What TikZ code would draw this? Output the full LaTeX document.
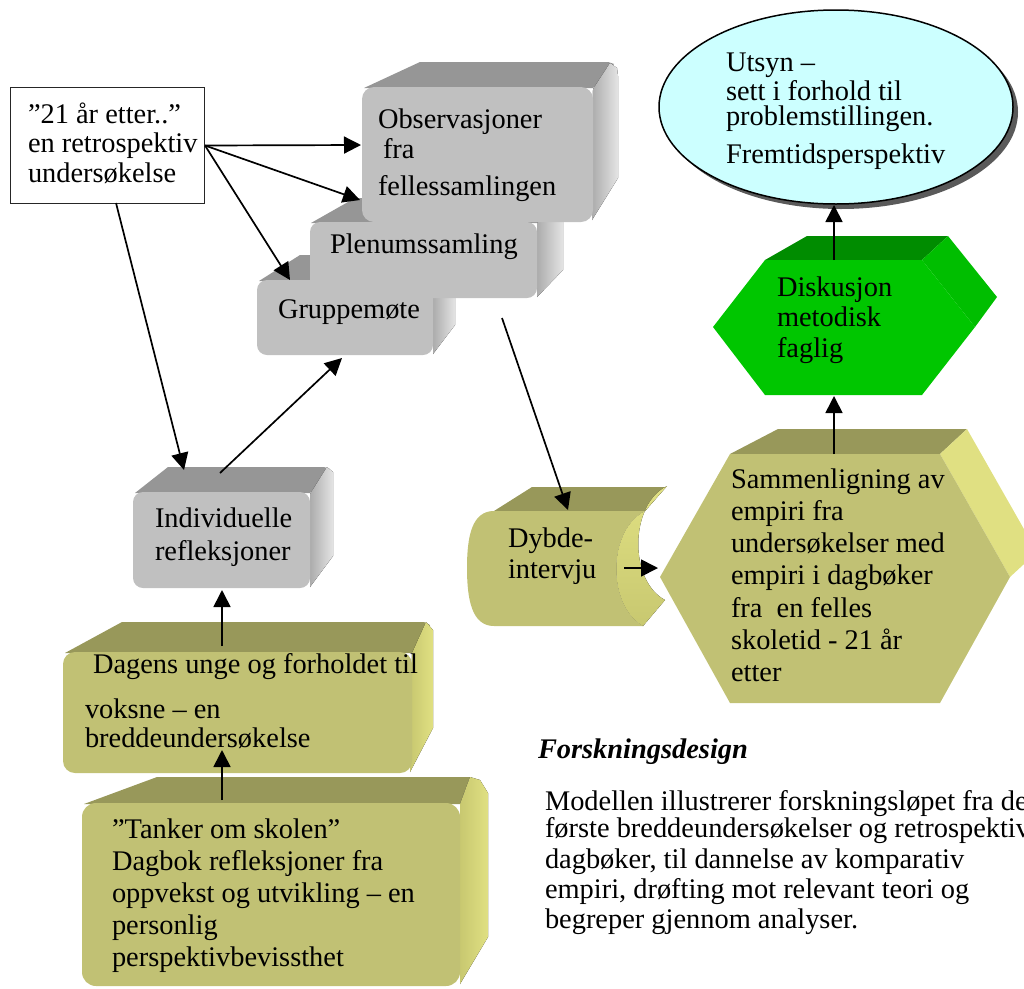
\documentclass[tikz,border=0pt]{standalone}
\usepackage{fontspec}
\setmainfont{Liberation Serif}
\usetikzlibrary{arrows.meta}
\definecolor{gFront}{RGB}{192,192,192}
\definecolor{gTop}{RGB}{150,150,150}
\definecolor{gSideA}{RGB}{172,172,172}
\definecolor{gSideB}{RGB}{228,228,228}
\definecolor{oFront}{RGB}{193,193,116}
\definecolor{oTop}{RGB}{152,152,90}
\definecolor{oSideA}{RGB}{200,200,112}
\definecolor{oSideB}{RGB}{224,224,130}
\definecolor{grFront}{RGB}{0,198,0}
\definecolor{grTop}{RGB}{0,140,0}
\definecolor{grSide}{RGB}{0,190,0}
\definecolor{cyanFill}{RGB}{204,255,255}
\definecolor{shadowGray}{RGB}{90,90,90}
\newcommand{\txtlines}[1]{\begin{tabular}[t]{@{}l@{}}#1\end{tabular}}
\begin{document}
\begin{tikzpicture}[x=1pt,y=-1pt,
  txt/.style={anchor=base west, inner sep=0pt, outer sep=0pt, font=\fontsize{28.4}{#1}\selectfont},
  arr/.style={line width=1.7pt, -{Triangle[length=17pt,width=17pt]}},
  gside/.style={left color=gSideA, right color=gSideB},
  oside/.style={left color=oSideA, right color=oSideB}]
\useasboundingbox (0,0) rectangle (1024,988);
\begin{scope}
\clip (0,0) rectangle (1024,988);
% --- Gruppemote block
\fill[gTop] (259,281) -- (300,255) -- (450,255) -- (455,259) -- (433,281) -- cycle;
\fill[gside] (433,282) -- (452,255) -- (455,258) -- (455,325) -- (433,354) -- cycle;
\fill[gFront, rounded corners=10pt] (257,280) rectangle (433,355);
% --- Plenumssamling block
\fill[gTop] (311,223) -- (355,198) -- (557,198) -- (562,201) -- (537,223) -- cycle;
\fill[gside] (537,223) -- (558,198) -- (563,202) -- (563,270) -- (537,297) -- cycle;
\fill[gFront, rounded corners=10pt] (310,222) rectangle (537,298);
% --- Observasjoner block
\fill[gTop] (364,88) -- (420,62) -- (608,62) -- (614,64) -- (593,88) -- cycle;
\fill[gside] (593,89) -- (610,63) -- (617,68) -- (618,76) -- (618,178) -- (592,220) -- cycle;
\fill[gFront, rounded corners=12pt] (362,87) rectangle (593,222);
% --- Individuelle block
\fill[gTop] (135,493) -- (168,467) -- (324,467) -- (330,469) -- (310,493) -- cycle;
\fill[gside] (310,494) -- (327,467) -- (333,472) -- (333,556) -- (310,587) -- cycle;
\fill[gFront, rounded corners=10pt] (133,492) rectangle (310,588);
% --- Dagens block
\fill[oTop] (65,653) -- (122,622) -- (424,622) -- (430,625) -- (412,653) -- cycle;
\fill[oside] (412,653) -- (426,622) -- (433,630) -- (433,728) -- (410,772) -- cycle;
\fill[oFront, rounded corners=12pt] (63,652) rectangle (412,773);
% --- Tanker block
\fill[oTop] (84,804) -- (157,777) -- (470,777) -- (460,804) -- cycle;
\fill[oside] (460,804) -- (470,777) -- (480,780) -- (488,793) -- (488,937) -- (460,984) -- cycle;
\fill[oFront, rounded corners=14pt] (82,803) rectangle (460,986);
% --- Dybde-intervju
\fill[oTop] (494,511) -- (532,487) -- (666,487) -- (645,511) -- cycle;
\fill[top color=oSideB, bottom color=oSideA] (645,511) .. controls (607,530) and (607,606) .. (643,626) -- (665,600) .. controls (629,581) and (629,505) .. (667,486) -- cycle;
\fill[oFront] (494,511) -- (645,511) .. controls (607,530) and (607,606) .. (643,626) -- (494,626) .. controls (472,626) and (467,600) .. (467,568) .. controls (467,536) and (472,511) .. (494,511) -- cycle;
% --- Sammenligning hexagon
\fill[oTop] (730,454) -- (778,429) -- (967,429) -- (940,454) -- cycle;
\fill[oSideB] (940,454) -- (967,429) -- (1037,552) -- (1010,577) -- cycle;
\fill[oFront] (730,454) -- (940,454) -- (1010,577) -- (940,703) -- (730,703) -- (660,577) -- cycle;
% --- Diskusjon green hexagon
\fill[grTop] (765,260) -- (807,236) -- (948,236) -- (922,260) -- cycle;
\fill[grSide] (922,260) -- (948,236) -- (997,297) -- (975,327) -- cycle;
\fill[grFront] (765,260) -- (922,260) -- (975,327) -- (922,395) -- (765,395) -- (713,327) -- cycle;
% --- Utsyn ellipse
\fill[shadowGray] (841,112) ellipse [x radius=177pt, y radius=97pt];
\draw[fill=cyanFill, line width=1.5pt] (836,107) ellipse [x radius=177pt, y radius=97pt];
% --- 21 aar box
\node[draw=black!85, line width=1pt, fill=white, minimum width=194pt, minimum height=116pt, inner sep=0pt, anchor=north west] (b21) at (10,87) {};

% --- texts
\node[txt=29.5] (t21) at (28,123) {\txtlines{”21 år etter..”\\en retrospektiv\\undersøkelse}};
\node[txt=30] (tObs) at (378,128) {\txtlines{Observasjoner\\\hspace*{5pt}fra\\[7pt]fellessamlingen}};
\node[txt=30] (tPlen) at (330,253) {Plenumssamling};
\node[txt=30] (tGrp) at (278,318) {Gruppemøte};
\node[txt=33] (tInd) at (155,527) {\txtlines{Individuelle\\refleksjoner}};
\node[txt=29] (tDag) at (85,673) {\txtlines{\hspace*{8pt}Dagens unge og forholdet til\\[16pt]voksne – en\\breddeundersøkelse}};
\node[txt=32] (tTank) at (112,838) {\txtlines{”Tanker om skolen”\\Dagbok refleksjoner fra\\oppvekst og utvikling – en\\personlig\\perspektivbevissthet}};
\node[txt=30] (tUts) at (726,71) {\txtlines{Utsyn –\\[-1pt]sett i forhold til\\[-5pt]problemstillingen.\\[8pt]Fremtidsperspektiv}};
\node[txt=30.5] (tDis) at (777,296) {\txtlines{Diskusjon\\metodisk\\faglig}};
\node[txt=31] (tDyb) at (508,547) {\txtlines{Dybde-\\intervju}};
\node[txt=32.3] (tSam) at (731,488) {\txtlines{Sammenligning av\\empiri fra\\undersøkelser med\\empiri i dagbøker\\fra\ \ en felles\\skoletid - 21 år\\etter}};
\node[txt=30] (tFor) at (538,758) {\bfseries\itshape Forskningsdesign};
\node[txt=30] (tMod) at (545,810) {\txtlines{Modellen illustrerer forskningsløpet fra de\\[-3pt]første breddeundersøkelser og retrospektiv\\[1pt]dagbøker, til dannelse av komparativ\\empiri, drøfting mot relevant teori og\\begreper gjennom analyser.}};

% --- connector end points
\coordinate (obsIn) at (361,145);
\coordinate (obsCorner) at (360,200);
\coordinate (grpIn) at (290,280);
\coordinate (b21bot) at (116,203);
\coordinate (indTop) at (184,470);
\coordinate (indOut) at (220,473);
\coordinate (grpBot) at (342,358);
\coordinate (plenOut) at (502,318);
\coordinate (dybTop) at (568,510);
\coordinate (dagTop) at (222,646);
\coordinate (indBot) at (222,590);
\coordinate (tankTop) at (222,800);
\coordinate (dagBot) at (222,750);
\coordinate (dybOut) at (624,568);
\coordinate (samIn) at (658,568);
\coordinate (samTop) at (834,454);
\coordinate (disBot) at (834,396);
\coordinate (disTop) at (834,260);
\coordinate (ellBot) at (834,205);

% --- connectors
\draw[arr] (b21.east) -- (obsIn);
\draw[arr] (b21.east) -- (obsCorner);
\draw[arr] (b21.east) -- (grpIn);
\draw[arr] (b21bot) -- (indTop);
\draw[arr] (indOut) -- (grpBot);
\draw[arr] (plenOut) -- (dybTop);
\draw[arr] (dagTop) -- (indBot);
\draw[arr] (tankTop) -- (dagBot);
\draw[arr] (dybOut) -- (samIn);
\draw[arr] (samTop) -- (disBot);
\draw[arr] (disTop) -- (ellBot);
\end{scope}
\end{tikzpicture}
\end{document}
